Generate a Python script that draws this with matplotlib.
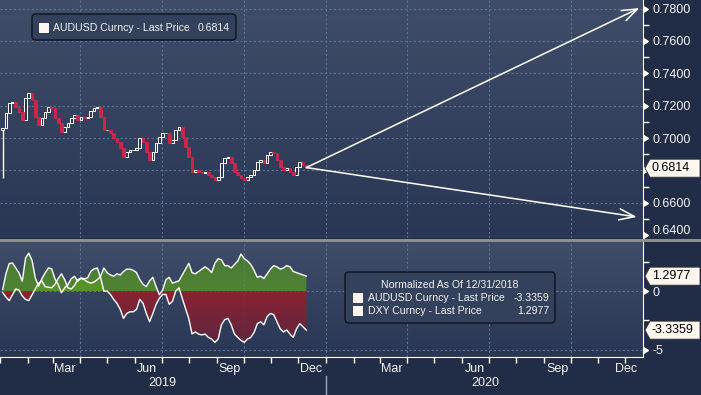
import numpy as np
import pandas as pd
import matplotlib
matplotlib.use("Agg")
import matplotlib.pyplot as plt
import matplotlib.dates as mdates
from matplotlib.patches import Rectangle, FancyBboxPatch, Polygon, PathPatch
from matplotlib.path import Path
from matplotlib.colors import LinearSegmentedColormap
from matplotlib.transforms import IdentityTransform, ScaledTranslation

W, H = 701, 395
plt.rcParams['font.family'] = ['Liberation Sans', 'DejaVu Sans']

# AUDUSD closes, Jan 4 .. Dec 10 2019 (evenly spaced samples)
AUD_CLOSE = [0.7060, 0.7155, 0.7217, 0.7220, 0.7190, 0.7160, 0.7110, 0.7250, 0.7280, 0.7235,
             0.7130, 0.7080, 0.7125, 0.7160, 0.7190, 0.7185, 0.7125, 0.7090, 0.7040, 0.7070,
             0.7090, 0.7125, 0.7140, 0.7110, 0.7130, 0.7125, 0.7130, 0.7170, 0.7185, 0.7190,
             0.7130, 0.7050, 0.7050, 0.7030, 0.7000, 0.6976, 0.6940, 0.6885, 0.6915, 0.6925,
             0.6925, 0.6940, 0.7000, 0.6976, 0.6915, 0.6865, 0.6915, 0.6970, 0.7007, 0.7030,
             0.7030, 0.6970, 0.6988, 0.7050, 0.7070, 0.7007, 0.6945, 0.6885, 0.6791, 0.6803,
             0.6790, 0.6785, 0.6790, 0.6770, 0.6760, 0.6740, 0.6760, 0.6846, 0.6877, 0.6885,
             0.6846, 0.6790, 0.6770, 0.6752, 0.6740, 0.6760, 0.6770, 0.6800, 0.6853, 0.6865,
             0.6846, 0.6896, 0.6915, 0.6908, 0.6865, 0.6822, 0.6803, 0.6815, 0.6790, 0.6770,
             0.6822, 0.6853, 0.6834, 0.6814]
# DXY Curncy, % change since 12/31/2018, same dates
DXY_PCT = [-0.1, -0.5, -0.8, -0.3, 0.2, 0.1, -0.4, -0.7, -0.8, -0.3,
           0.2, 0.7, 0.9, 0.4, 0.35, 0.3, 0.6, 1.1, 1.5, 1.0,
           0.3, 0.2, 0.5, 1.0, 1.1, 1.0, 0.8, 0.7, 0.8, 1.0,
           1.3, 2.0, 1.6, 1.4, 1.3, 1.5, 1.4, 1.7, 1.9, 1.9,
           1.8, 1.6, 1.0, 0.6, 0.4, 0.9, 1.2, 0.4, -0.3, 0.1,
           1.0, 1.2, 0.7, 0.8, 0.9, 1.4, 1.9, 2.4, 1.6, 1.5,
           1.7, 1.9, 2.1, 1.9, 1.6, 2.4, 2.8, 2.7, 2.2, 2.2,
           2.0, 2.3, 2.6, 3.2, 2.8, 2.6, 2.3, 1.8, 1.2, 1.3,
           1.1, 1.5, 1.9, 2.2, 2.1, 1.9, 2.0, 2.2, 2.1, 1.7,
           1.6, 1.5, 1.4, 1.2977]
FIRST_DAY, LAST_DAY = "2019-01-04", "2019-12-10"
AUD_BASE = 0.7049          # AUDUSD on 12/31/2018
AUD_FLASH_LOW = 0.6754     # Jan 3 flash crash wick
LAST_AUD = 0.6814
LAST_AUD_PCT = -3.3359
LAST_DXY_PCT = 1.2977
ARROW_FROM = ("2019-12-10", 0.6818)
ARROW_TO = [("2020-12-17", 0.7803), ("2020-12-14", 0.6513)]
PRICE_TICKS = [0.64, 0.66, 0.68, 0.70, 0.72, 0.74, 0.76, 0.78]
PCT_TICKS = [-5, 0]
XLIM = ("2019-01-01", "2020-12-21")
MONTH_LABELS = [("2019-03-15", "Mar"), ("2019-06-15", "Jun"), ("2019-09-15", "Sep"), ("2019-12-15", "Dec"),
                ("2020-03-15", "Mar"), ("2020-06-16", "Jun"), ("2020-09-16", "Sep"), ("2020-12-02", "Dec")]
YEAR_LABELS = [("2019-07-02", "2019"), ("2020-06-27", "2020")]

BG_TOP, BG_BOT = "#3f4d69", "#2a3754"
GRID = "#5d7192"
WHITE = "#f4f4f4"

close = np.array(AUD_CLOSE)
dxy = np.array(DXY_PCT)
aud_pct = (close / AUD_BASE - 1) * 100
dates = pd.date_range(FIRST_DAY, LAST_DAY, periods=len(close))
xs = mdates.date2num(dates)
xlim = mdates.date2num(pd.to_datetime(list(XLIM)))

fig = plt.figure(figsize=(W / 100, H / 100), dpi=100, facecolor="#212c47")
ax1 = fig.add_axes([0, 1 - 238 / H, 643 / W, 238 / H])
ax2 = fig.add_axes([0, 1 - 357 / H, 643 / W, 115 / H])
fig.add_artist(Rectangle((0, H - 241.5), W, 3, transform=IdentityTransform(), fc="#8e8e8e", ec="none"))

bgmap = LinearSegmentedColormap.from_list("bg", [BG_BOT, BG_TOP])
for ax in (ax1, ax2):
    ax.imshow(np.linspace(0, 1, 128).reshape(-1, 1), cmap=bgmap, origin="lower", aspect="auto",
              extent=(0, 1, 0, 1), transform=ax.transAxes, zorder=-5)
    for s in ax.spines.values():
        s.set_visible(False)
    ax.spines["right"].set_visible(True)
    ax.spines["right"].set_color("white")
    for q in pd.date_range("2019-04-01", "2020-12-01", freq="QS"):
        ax.axvline(q, color=GRID, lw=0.8, ls=(0, (2, 2)), zorder=0)

# ---- top: candles
ax1.set_xlim(*xlim)
ax1.set_ylim(0.6383, 0.78525)
opens = np.r_[AUD_BASE, close[:-1]]
up = close >= opens
lo = np.minimum(opens, close)
hi = np.maximum(opens, close)
ax1.vlines(xs[0], AUD_FLASH_LOW, hi[0], color="white", lw=1, zorder=3)
ax1.bar(xs[up], hi[up] - lo[up], bottom=lo[up], width=3.0, fc="#2b3752", ec="white", lw=0.7, zorder=3)
ax1.bar(xs[~up], hi[~up] - lo[~up], bottom=lo[~up], width=3.0, fc="#d0254a", ec="#d0254a", lw=0.6, zorder=3)
for end in ARROW_TO:
    ax1.annotate("", xy=(mdates.datestr2num(end[0]), end[1]),
                 xytext=(mdates.datestr2num(ARROW_FROM[0]), ARROW_FROM[1]),
                 arrowprops=dict(arrowstyle="->,head_length=1.1,head_width=0.4", color="white",
                                 lw=1.1, shrinkA=0, shrinkB=0), annotation_clip=False, zorder=4)
for v in PRICE_TICKS[1:]:
    ax1.axhline(v, color=GRID, lw=0.8, ls=(0, (2, 2)), zorder=0)
ax1.set_xticks([])
ax1.yaxis.tick_right()
ax1.set_yticks(PRICE_TICKS)
# the 0.6800 label sits under the last-price tag
ax1.set_yticklabels(["" if abs(v - LAST_AUD) < 0.005 else f"{v:.4f}" for v in PRICE_TICKS])
ax1.set_yticks([(a + b) / 2 for a, b in zip(PRICE_TICKS[:-1], PRICE_TICKS[1:])], minor=True)

# ---- bottom: normalized
ax2.set_xlim(*xlim)
ax2.set_ylim(-5.64, 4.23)
ax2.spines["bottom"].set_visible(True)
ax2.spines["bottom"].set_color("white")


def grad_fill(ax, x, y, positive, colors, span, alpha):
    mask = y >= 0 if positive else y <= 0
    coll = ax.fill_between(x, 0, y, where=mask, interpolate=True, fc="none", ec="none", lw=0)
    paths = coll.get_paths()
    if not paths:
        return
    clip = PathPatch(Path.make_compound_path(*paths), transform=ax.transData, fc="none", ec="none")
    ax.add_patch(clip)
    cmap = LinearSegmentedColormap.from_list("f", colors)
    img = ax.imshow(np.linspace(0, 1, 128).reshape(-1, 1), cmap=cmap, origin="lower", aspect="auto",
                    extent=(x[0], x[-1], 0, span), alpha=alpha, zorder=2)
    img.set_clip_path(clip)


for ser in (aud_pct, dxy):
    grad_fill(ax2, xs, ser, True, ["#5a9e22", "#4c862a"], 4.5, 0.72)
    grad_fill(ax2, xs, ser, False, ["#93202f", "#5a2640"], -5.5, 0.92)
    ax2.plot(xs, ser, color="white", lw=1.0, zorder=3)
ax2.set_xlim(*xlim)
ax2.set_ylim(-5.64, 4.23)
for v in PCT_TICKS:
    ax2.axhline(v, color=GRID, lw=0.8, ls=(0, (2, 2)), zorder=0)
ax2.yaxis.tick_right()
ax2.set_yticks(PCT_TICKS)
ax2.set_yticklabels([f"{v:g}" for v in PCT_TICKS])
ax2.set_yticks([-2.5, 2.5], minor=True)
ax2.xaxis.remove_overlapping_locs = False
ax2.xaxis.set_major_locator(mdates.MonthLocator())
ax2.xaxis.set_major_formatter(plt.NullFormatter())
ax2.set_xticks(mdates.date2num(pd.to_datetime([d for d, _ in MONTH_LABELS])), minor=True)
ax2.set_xticklabels([t for _, t in MONTH_LABELS], minor=True)
ax2.tick_params(axis="x", which="major", length=4, width=1, color="white", direction="out")
ax2.tick_params(axis="x", which="minor", length=0, pad=4.5, labelsize=9, labelcolor=WHITE)
yr_y = -(383 - 357) / 115
for d, t in YEAR_LABELS:
    ax2.text(mdates.datestr2num(d), yr_y, t, transform=ax2.get_xaxis_transform(), ha="center",
             va="center", fontsize=9, color=WHITE)
ax2.plot([mdates.datestr2num("2020-01-01")] * 2, [-(376 - 357) / 115, -(395 - 357) / 115],
         transform=ax2.get_xaxis_transform(), clip_on=False, color="#a0a8b8", lw=1)

for ax, ticks in ((ax1, PRICE_TICKS), (ax2, PCT_TICKS)):
    ax.set_autoscale_on(False)
    ax.tick_params(axis="y", which="major", length=0, pad=6.5, labelsize=9, labelcolor=WHITE)
    ax.tick_params(axis="y", which="minor", length=4, width=1, color="white")
    ax.plot(np.ones(len(ticks)), ticks, transform=ax.get_yaxis_transform(), ls="none", marker=9,
            ms=5, color="white", clip_on=False, zorder=5)

# nudge the lowest price label up, as on the terminal
for t in ax1.yaxis.get_major_ticks():
    if abs(t.get_loc() - 0.64) < 1e-9:
        t.label2.set_transform(t.label2.get_transform() + ScaledTranslation(0, 4 / 72, fig.dpi_scale_trans))


def tag(ax, val, text):
    x0 = ax.transAxes.transform((1, 0))[0]
    y = ax.transData.transform((xlim[0], val))[1]
    hh = 9
    fig.add_artist(Polygon([(x0 + 2, y), (x0 + 7, y + hh), (W - 1, y + hh), (W - 1, y - hh), (x0 + 7, y - hh)],
                           closed=True, transform=IdentityTransform(), fc="#fff6ee", ec="#333333", lw=0.6))
    fig.text(x0 + 9, y, text, transform=IdentityTransform(), va="center", ha="left", fontsize=9, color="black")


tag(ax1, LAST_AUD, f"{LAST_AUD:.4f}")
tag(ax2, LAST_DXY_PCT, f"{LAST_DXY_PCT:.4f}")
tag(ax2, LAST_AUD_PCT, f"{LAST_AUD_PCT:.4f}")


def box(x, y, w, h):
    fig.add_artist(FancyBboxPatch((x, H - y - h), w, h, boxstyle="round,pad=0,rounding_size=4",
                                  transform=IdentityTransform(), fc="#33415c", ec="#0e121c", lw=1))


def swatch(x, y):
    fig.add_artist(Rectangle((x, H - y - 10), 10, 10, transform=IdentityTransform(), fc="#fff4f0", ec="none"))


def ftext(x, y, s, **kw):
    fig.text(x, H - y, s, transform=IdentityTransform(), va="center", fontsize=7.6, color=WHITE, **kw)


box(32, 14, 204, 26)
swatch(39, 23)
ftext(53, 28, "AUDUSD Curncy - Last Price")
ftext(230, 28, f"{LAST_AUD:.4f}", ha="right")

box(345, 272, 210, 51)
ftext(450, 285, "Normalized As Of 12/31/2018", ha="center")
swatch(353, 293)
ftext(368, 298, "AUDUSD Curncy - Last Price")
ftext(549, 298, f"{LAST_AUD_PCT:.4f}", ha="right")
swatch(353, 306)
ftext(368, 311, "DXY Curncy - Last Price")
ftext(549, 311, f"{LAST_DXY_PCT:.4f}", ha="right")

fig.savefig("out.png", dpi=100, facecolor=fig.get_facecolor())
